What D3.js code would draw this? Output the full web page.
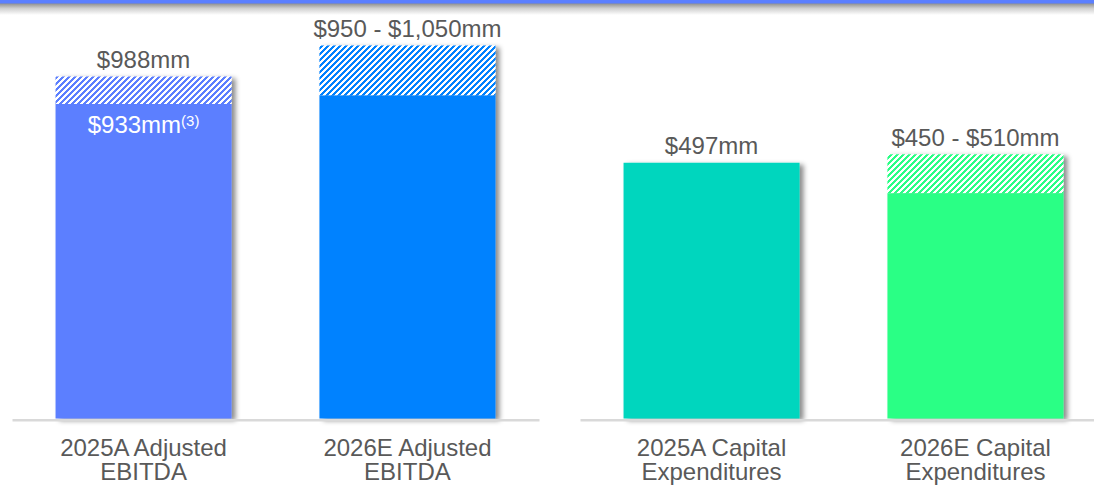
<!DOCTYPE html>
<html>
<head>
<meta charset="utf-8">
<script src="https://cdn.jsdelivr.net/npm/d3@7"></script>
<style>
  html, body { margin: 0; padding: 0; background: #fff; }
  svg { display: block; }
</style>
</head>
<body>
<script>
// ---- data ----
const categories = ["2025A Adjusted|EBITDA", "2026E Adjusted|EBITDA", "2025A Capital|Expenditures", "2026E Capital|Expenditures"];
const panelOf = [0, 0, 1, 1];
const solidValues = [933, 950, 497, 450];     // solid portion top
const totalValues = [988, 1050, 497, 510];    // top including hatched range
const valueLabels = ["$988mm", "$950 - $1,050mm", "$497mm", "$450 - $510mm"];
const innerLabels = ["$933mm", "", "", ""];
const innerSup = ["(3)", "", "", ""];
const colors = ["#5B7FFF", "#0082FF", "#05D6BE", "#29FF85"];

const W = 1094, H = 485;
const baseY = 418.5;
const svg = d3.select("body").append("svg").attr("width", W).attr("height", H);
const defs = svg.append("defs");

// header gradient
const g1 = defs.append("linearGradient").attr("id", "hdr").attr("x1", 0).attr("y1", 0).attr("x2", 0).attr("y2", 1);
g1.append("stop").attr("offset", "0").attr("stop-color", "#8a8a8a");
g1.append("stop").attr("offset", "0.45").attr("stop-color", "#cfcfcf");
g1.append("stop").attr("offset", "1").attr("stop-color", "#ffffff");
svg.append("rect").attr("x", 0).attr("y", 3).attr("width", W).attr("height", 12).attr("fill", "url(#hdr)");
svg.append("rect").attr("x", 0).attr("y", 0).attr("width", W).attr("height", 3.5).attr("fill", "#5B7FFF");

// shadow filter
const f = defs.append("filter").attr("id", "shadow").attr("x", "-10%").attr("y", "-10%").attr("width", "130%").attr("height", "130%");
f.append("feDropShadow").attr("dx", 4).attr("dy", 2).attr("stdDeviation", 2.5)
  .attr("flood-color", "#000").attr("flood-opacity", 0.45);

// hatch patterns
colors.forEach((c, i) => {
  const p = defs.append("pattern").attr("id", "hatch" + i)
    .attr("patternUnits", "userSpaceOnUse").attr("width", 6).attr("height", 6);
  p.append("rect").attr("width", 6).attr("height", 6).attr("fill", "#fff");
  for (let x = 0; x < 6; x++) for (let y = 0; y < 6; y++) {
    if ((x + y) % 6 < 3) p.append("rect").attr("x", x).attr("y", y).attr("width", 1).attr("height", 1)
      .attr("fill", c).attr("shape-rendering", "crispEdges");
  }
});

// scales per panel
const xScales = [
  d3.scaleBand().domain([0, 1]).range([12, 539]).paddingInner(0.333).paddingOuter(0.165),
  d3.scaleBand().domain([2, 3]).range([580, 1107]).paddingInner(0.333).paddingOuter(0.165)
];
const yScales = [
  d3.scaleLinear().domain([304, 1050]).range([baseY, 45.5]),
  d3.scaleLinear().domain([103.5, 510]).range([baseY, 154.3])
];

const font = "'Liberation Sans', Arial, Helvetica, sans-serif";
const textColor = "#595959";

categories.forEach((cat, i) => {
  const x = xScales[panelOf[i]], y = yScales[panelOf[i]];
  const bx = x(i), bw = x.bandwidth();
  const g = svg.append("g").attr("filter", "url(#shadow)");
  if (totalValues[i] > solidValues[i]) {
    g.append("rect").attr("x", bx).attr("y", y(totalValues[i])).attr("width", bw)
      .attr("height", y(solidValues[i]) - y(totalValues[i])).attr("fill", "url(#hatch" + i + ")");
  }
  g.append("rect").attr("x", bx).attr("y", y(solidValues[i])).attr("width", bw)
    .attr("height", baseY - y(solidValues[i])).attr("fill", colors[i]);

  svg.append("text").attr("x", bx + bw / 2).attr("y", y(totalValues[i]) - 8.5)
    .attr("text-anchor", "middle").attr("font-family", font).attr("font-size", 24)
    .attr("fill", textColor).text(valueLabels[i]);

  if (innerLabels[i]) {
    const t = svg.append("text").attr("x", bx + bw / 2).attr("y", y(solidValues[i]) + 28.5)
      .attr("text-anchor", "middle").attr("font-family", font).attr("font-size", 24).attr("fill", "#fff");
    t.append("tspan").text(innerLabels[i]);
    t.append("tspan").attr("font-size", 15).attr("dy", -7).text(innerSup[i]);
  }
});

// axes
xScales.forEach((x, k) => {
  const ax = svg.append("g").attr("transform", `translate(0,${baseY + 1.2})`)
    .call(d3.axisBottom(x).tickSize(0).tickSizeOuter(0).tickFormat(() => ""));
  ax.select(".domain").attr("stroke", "#D9D9D9").attr("stroke-width", 2.5);
  ax.selectAll(".tick text").remove();
  ax.selectAll(".tick").each(function(d) {
    const lines = categories[d].split("|");
    const t = d3.select(this).append("text").attr("text-anchor", "middle")
      .attr("font-family", font).attr("font-size", 24).attr("fill", textColor);
    lines.forEach((ln, j) => t.append("tspan").attr("x", 0).attr("y", 36 + j * 24.5).text(ln));
  });
});
</script>
</body>
</html>
